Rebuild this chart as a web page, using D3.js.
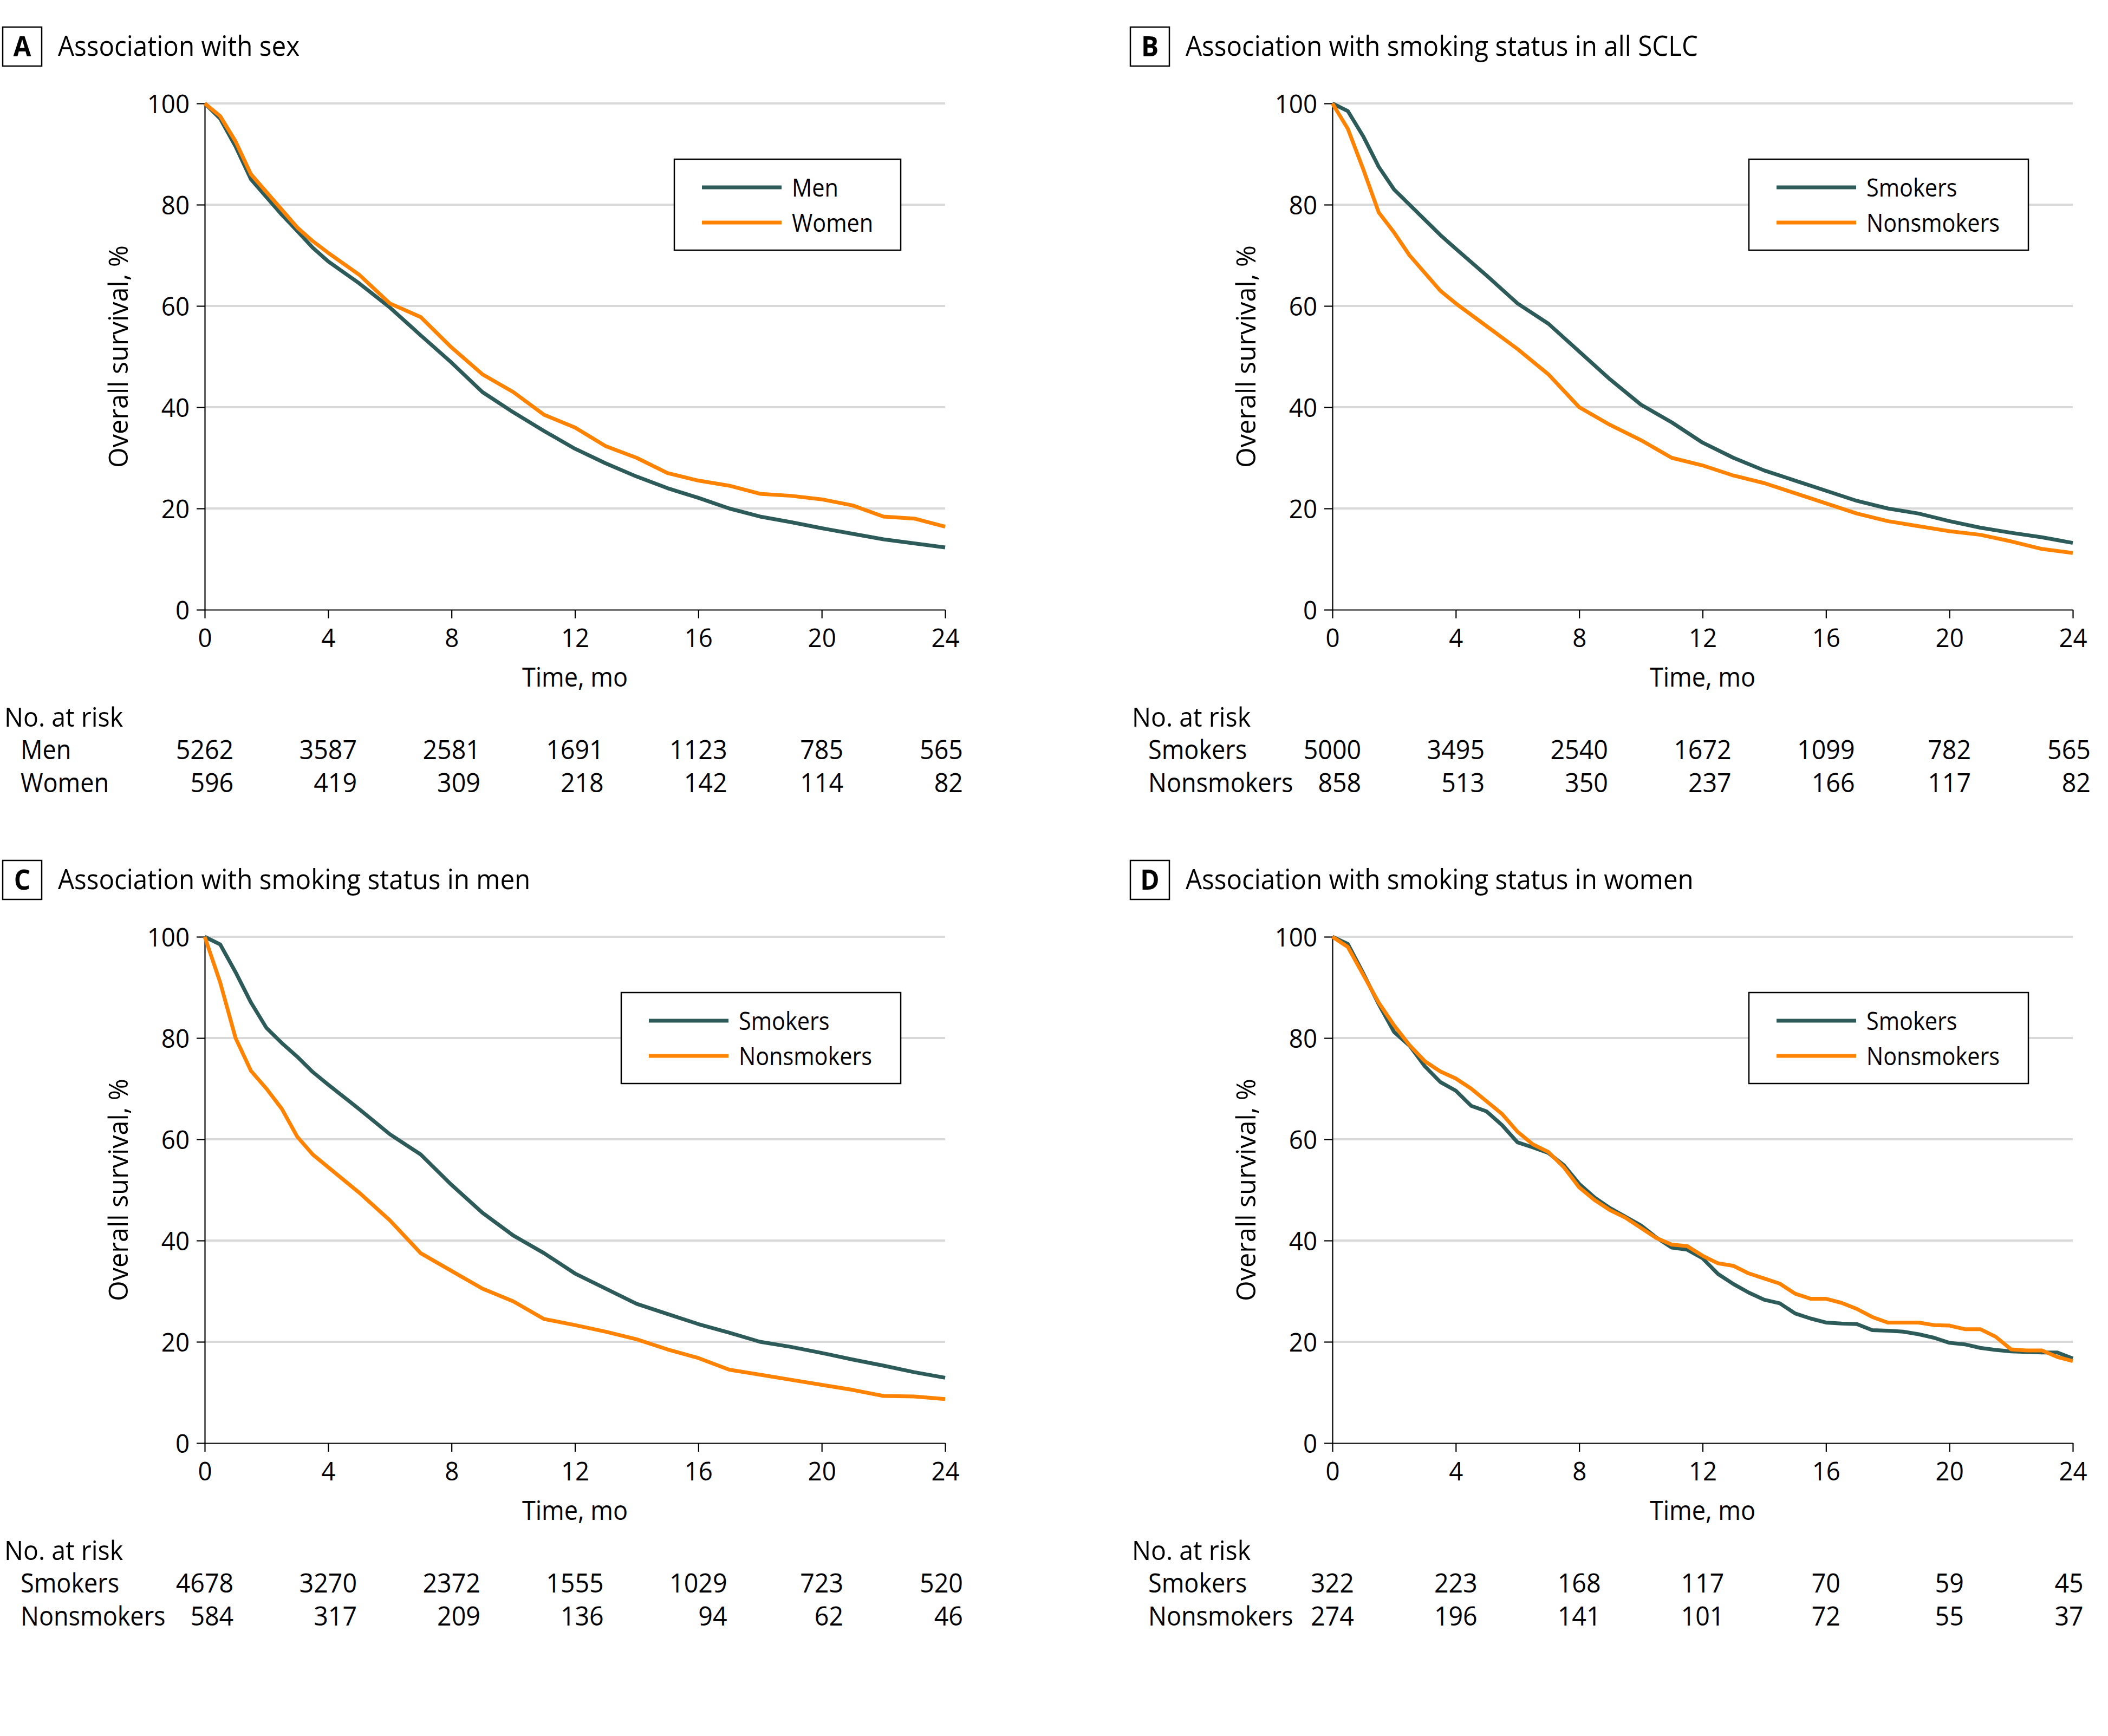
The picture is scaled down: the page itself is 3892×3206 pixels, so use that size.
<!DOCTYPE html>
<html><head><meta charset="utf-8">
<script src="https://cdn.jsdelivr.net/npm/d3@7"></script>
<style>body{margin:0;background:#fff}svg{display:block}text{font-family:"Open Sans","Noto Sans",sans-serif;fill:#000}</style>
</head><body><svg id="c" width="3892" height="3206"></svg>
<script>
// ---------- data ----------
const panelLetters = ["A","B","C","D"];
const panelTitles = ["Association with sex","Association with smoking status in all SCLC","Association with smoking status in men","Association with smoking status in women"];
const seriesNames = [["Men","Women"],["Smokers","Nonsmokers"],["Smokers","Nonsmokers"],["Smokers","Nonsmokers"]];
const xTicks = [0,4,8,12,16,20,24];
const yTicks = [0,20,40,60,80,100];
const timesABC = [0,0.5,1,1.5,2,2.5,3,3.5,4,5,6,7,8,9,10,11,12,13,14,15,16,17,18,19,20,21,22,23,24];
const timesD = [0,0.5,1,1.5,2,2.5,3,3.5,4,4.5,5,5.5,6,6.5,7,7.5,8,8.5,9,9.5,10,10.5,11,11.5,12,12.5,13,13.5,14,14.5,15,15.5,16,16.5,17,17.5,18,18.5,19,19.5,20,20.5,21,21.5,22,22.5,23,23.5,24];
const menA   = [100,97,91.5,85,81.5,78,74.8,71.5,68.8,64.5,59.7,54.2,48.8,43,39,35.3,31.8,28.9,26.3,24,22.1,20,18.4,17.3,16.1,15,13.9,13.1,12.3];
const womenA = [100,97.5,92.5,86,82.5,79,75.5,72.8,70.5,66.2,60.5,57.8,51.8,46.5,43,38.5,36,32.3,30,27,25.5,24.5,22.9,22.5,21.8,20.6,18.4,18,16.4];
const smokB  = [100,98.5,93.5,87.5,83,80,77,74,71.3,66,60.5,56.5,51,45.5,40.5,37,33,30,27.5,25.5,23.5,21.5,20,19,17.5,16.2,15.2,14.3,13.2];
const nonB   = [100,95,87,78.5,74.5,70,66.5,63,60.5,56,51.5,46.5,40,36.5,33.5,30,28.5,26.5,25,23,21,19,17.5,16.5,15.5,14.8,13.5,12,11.2];
const smokC  = [100,98.5,93,87,82,79,76.3,73.3,70.8,66,61,57,51,45.5,41,37.5,33.5,30.5,27.5,25.5,23.5,21.8,20,19,17.8,16.5,15.3,14,12.9];
const nonC   = [100,91,80,73.5,70,66,60.5,57,54.5,49.5,44,37.5,34,30.5,28,24.5,23.3,22,20.5,18.5,16.8,14.5,13.5,12.5,11.5,10.5,9.3,9.2,8.7];
const smokD  = [100,98.6,92.8,86.7,81.2,78.5,74.4,71.3,69.6,66.6,65.5,62.8,59.4,58.4,57.3,54.9,51.2,48.5,46.4,44.7,43,40.6,38.6,38.2,36.5,33.4,31.4,29.7,28.3,27.6,25.6,24.6,23.8,23.6,23.5,22.3,22.2,22,21.5,20.8,19.8,19.5,18.8,18.4,18.1,18,17.9,17.9,16.7];
const nonD   = [100,98,92.5,87,82.5,78.6,75.4,73.4,72,70,67.5,65,61.5,59,57.5,54.5,50.5,48,46,44.5,42.5,40.5,39.2,38.9,37,35.5,35,33.5,32.5,31.5,29.5,28.5,28.5,27.7,26.5,24.9,23.8,23.8,23.8,23.3,23.2,22.5,22.5,21,18.5,18.3,18.3,17,16.2];
const riskA = [[5262,3587,2581,1691,1123,785,565],[596,419,309,218,142,114,82]];
const riskB = [[5000,3495,2540,1672,1099,782,565],[858,513,350,237,166,117,82]];
const riskC = [[4678,3270,2372,1555,1029,723,520],[584,317,209,136,94,62,46]];
const riskD = [[322,223,168,117,70,59,45],[274,196,141,101,72,55,37]];

const panels = [
  {times: timesABC, series:[menA, womenA], risk: riskA, legW: 418},
  {times: timesABC, series:[smokB, nonB], risk: riskB, legW: 516},
  {times: timesABC, series:[smokC, nonC], risk: riskC, legW: 516},
  {times: timesD,   series:[smokD, nonD], risk: riskD, legW: 516}
];
const colors = ["#2d5b59","#ff8200"];

// ---------- layout ----------
const DX = 2082, DY = 1539;
const PL = 378, PT = 191, PW = 1367, PH = 935;
const WORD = 0.9, NUM = 0.95;

const svg = d3.select("#c");
svg.append("rect").attr("width",3892).attr("height",3206).attr("fill","#fff");

function compress(sel, f){
  sel.each(function(){
    const L = this.getComputedTextLength();
    this.setAttribute("textLength", L*f);
    this.setAttribute("lengthAdjust","spacingAndGlyphs");
  });
}

panels.forEach((p, i) => {
  const ox = (i % 2) * DX, oy = Math.floor(i / 2) * DY;
  const g = svg.append("g").attr("transform", `translate(${ox},${oy})`);
  const x = d3.scaleLinear().domain([0,24]).range([PL, PL+PW]);
  const y = d3.scaleLinear().domain([0,100]).range([PT+PH, PT]);

  // title
  g.append("rect").attr("x",5).attr("y",50).attr("width",72).attr("height",72)
    .attr("fill","none").attr("stroke","#000").attr("stroke-width",2.5);
  g.append("text").attr("x",41).attr("y",104).attr("text-anchor","middle")
    .attr("font-size",52).attr("font-weight",700).text(panelLetters[i]).call(compress, 0.92);
  g.append("text").attr("x",107).attr("y",103).attr("font-size",52)
    .text(panelTitles[i]).call(compress, 0.915);

  // grid
  g.append("g").selectAll("line").data(yTicks.filter(d=>d>0)).join("line")
    .attr("x1",PL).attr("x2",PL+PW).attr("y1",d=>y(d)).attr("y2",d=>y(d))
    .attr("stroke","#d9d9d9").attr("stroke-width",4);

  // axes
  const xa = g.append("g").attr("transform",`translate(0,${PT+PH})`)
    .call(d3.axisBottom(x).tickValues(xTicks).tickSize(16).tickSizeOuter(0).tickPadding(0));
  const ya = g.append("g").attr("transform",`translate(${PL},0)`)
    .call(d3.axisLeft(y).tickValues(yTicks).tickSize(15).tickSizeOuter(0).tickPadding(13));
  [xa, ya].forEach(a => {
    a.select(".domain").attr("stroke","#000").attr("stroke-width",2.2);
    a.selectAll(".tick line").attr("stroke","#000").attr("stroke-width",2.2);
    a.selectAll(".tick text").attr("font-size",48).attr("font-family",null).attr("fill","#000");
  });
  xa.selectAll(".tick text").attr("dy",null).attr("y",69);
  ya.selectAll(".tick text").attr("dy","0.36em");
  compress(xa.selectAll(".tick text"), NUM);
  compress(ya.selectAll(".tick text"), NUM);

  // axis titles
  g.append("text").attr("transform",`translate(${PL-142},${PT+PH/2}) rotate(-90)`)
    .attr("text-anchor","middle").attr("font-size",50).text("Overall survival, %").call(compress, 0.97);
  g.append("text").attr("x",PL+PW/2).attr("y",PT+PH+142).attr("text-anchor","middle")
    .attr("font-size",50).text("Time, mo").call(compress, 0.9);

  // curves
  const line = d3.line().x(d=>x(d[0])).y(d=>y(d[1])).curve(d3.curveLinear);
  p.series.forEach((s, k) => {
    g.append("path").datum(p.times.map((t,j)=>[t, s[j]]))
      .attr("d", line).attr("fill","none").attr("stroke",colors[k])
      .attr("stroke-width",7).attr("stroke-linejoin","round");
  });

  // legend
  const lr = PL + 1285, lt = PT + 103, ll = lr - p.legW;
  const leg = g.append("g");
  leg.append("rect").attr("x",ll).attr("y",lt).attr("width",p.legW).attr("height",168)
    .attr("fill","#fff").attr("stroke","#000").attr("stroke-width",2.5);
  seriesNames[i].forEach((nm,k) => {
    const yy = lt + 52 + k*65;
    leg.append("line").attr("x1",ll+51).attr("x2",ll+198).attr("y1",yy).attr("y2",yy)
      .attr("stroke",colors[k]).attr("stroke-width",7);
    leg.append("text").attr("x",ll+217).attr("y",yy+17).attr("font-size",46).text(nm).call(compress, 0.9);
  });

  // number at risk
  const base = PT + PH;
  g.append("text").attr("x",8).attr("y",base+216).attr("font-size",50).text("No. at risk").call(compress, 0.93);
  seriesNames[i].forEach((nm,k) => {
    g.append("text").attr("x",38).attr("y",base+276+k*61).attr("font-size",50).text(nm).call(compress, WORD);
  });
  const cells = [];
  p.risk.forEach((row,k) => row.forEach((v,j) => {
    const t = g.append("text").attr("y",base+276+k*61).attr("font-size",49)
      .attr("text-anchor","end").text(v);
    compress(t, NUM);
    cells.push({t, j, w: +t.attr("textLength")});
  }));
  xTicks.forEach((tv,j) => {
    const col = cells.filter(c=>c.j===j);
    const mw = d3.max(col, c=>c.w);
    const shift = j === xTicks.length - 1 ? -7 : 0;
    col.forEach(c => c.t.attr("x", x(tv) + mw/2 + shift));
  });
});
</script></body></html>
